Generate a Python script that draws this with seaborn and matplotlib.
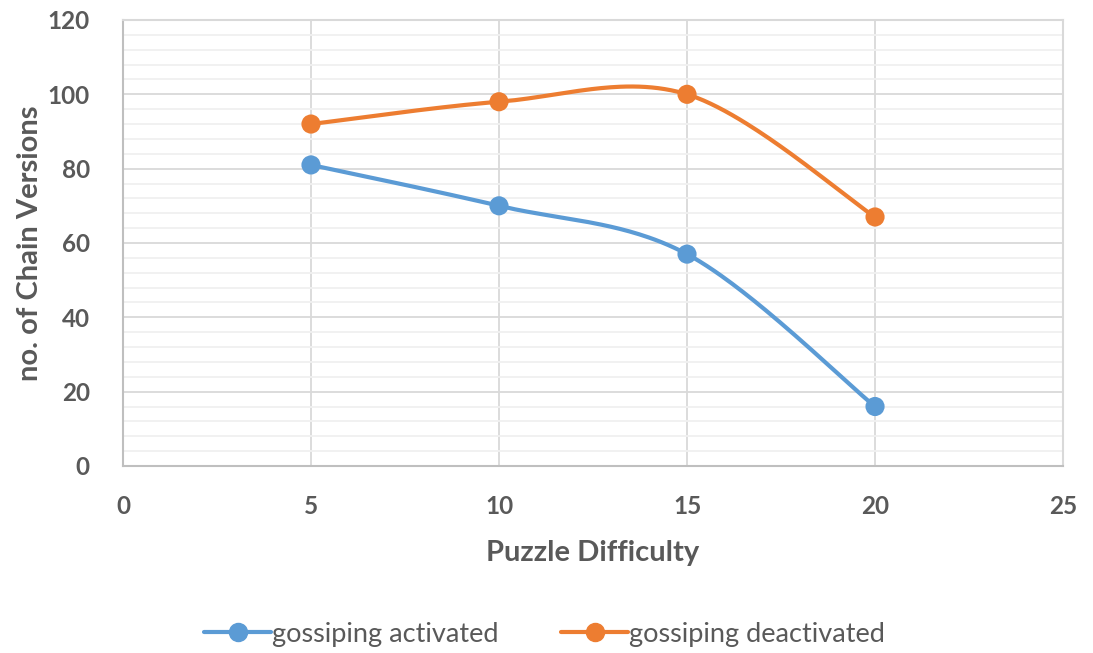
import numpy as np
import pandas as pd
import matplotlib
matplotlib.use("Agg")
import matplotlib.pyplot as plt
from matplotlib.lines import Line2D
from matplotlib.ticker import MultipleLocator
import seaborn as sns

# Chart data
difficulty = [5, 10, 15, 20]
gossip_on = [81, 70, 57, 16]
gossip_off = [92, 98, 100, 67]
series_names = ["gossiping activated", "gossiping deactivated"]
colors = ["#5B9BD5", "#ED7D31"]

sns.set_theme(style="white")
plt.rcParams["font.family"] = ["Lato", "DejaVu Sans"]

TEXT = "#595959"


def smooth(xs, ys, n=60):
    """Cubic Bezier smoothing through every point (spreadsheet-style)."""
    pts = np.column_stack([xs, ys]).astype(float)
    ext = np.vstack([pts[0], pts, pts[-1]])
    out = []
    t = np.linspace(0, 1, n)[:, None]
    for i in range(len(pts) - 1):
        p0, p1, p2, p3 = ext[i], ext[i + 1], ext[i + 2], ext[i + 3]
        c1 = p1 + (p2 - p0) / 6.0
        c2 = p2 - (p3 - p1) / 6.0
        seg = ((1 - t) ** 3) * p1 + 3 * ((1 - t) ** 2) * t * c1 \
            + 3 * (1 - t) * t ** 2 * c2 + t ** 3 * p2
        out.append(seg if i == 0 else seg[1:])
    out = np.vstack(out)
    return out[:, 0], out[:, 1]


curves = []
points = []
for name, vals in zip(series_names, [gossip_on, gossip_off]):
    sx, sy = smooth(difficulty, vals)
    curves.append(pd.DataFrame({"x": sx, "y": sy, "series": name}))
    points.append(pd.DataFrame({"x": difficulty, "y": vals, "series": name}))
curve_df = pd.concat(curves, ignore_index=True)
point_df = pd.concat(points, ignore_index=True)

fig = plt.figure(figsize=(10.93, 6.53), dpi=100)
ax = fig.add_axes([0.1125, 0.2864, 0.8601, 0.683])

palette = dict(zip(series_names, colors))
sns.lineplot(data=curve_df, x="x", y="y", hue="series", palette=palette,
             sort=False, estimator=None, units="series", linewidth=3,
             legend=False, ax=ax, zorder=3)
sns.scatterplot(data=point_df, x="x", y="y", hue="series", palette=palette,
                s=190, edgecolor="none", legend=False, ax=ax, zorder=4)

ax.set_xlim(0, 25)
ax.set_ylim(0, 120)
ax.xaxis.set_major_locator(MultipleLocator(5))
ax.yaxis.set_major_locator(MultipleLocator(20))
ax.yaxis.set_minor_locator(MultipleLocator(4))

ax.grid(which="major", axis="both", color="#D9D9D9", linewidth=1.3, zorder=1)
ax.grid(which="minor", axis="y", color="#F0F0F0", linewidth=1.3, zorder=0)
ax.set_axisbelow(True)

for side in ["left", "bottom"]:
    ax.spines[side].set_color("#BFBFBF")
    ax.spines[side].set_linewidth(1.5)
for side in ["top", "right"]:
    ax.spines[side].set_color("#D9D9D9")
    ax.spines[side].set_linewidth(1.5)

ax.tick_params(axis="both", which="both", length=0, labelsize=17.5, labelcolor=TEXT)
ax.tick_params(axis="y", pad=24)
ax.tick_params(axis="x", pad=21)
for lbl in ax.get_xticklabels() + ax.get_yticklabels():
    lbl.set_fontweight("bold")

ax.set_xlabel("Puzzle Difficulty", fontsize=21, fontweight="bold", color=TEXT, labelpad=16)
ax.set_ylabel("no. of Chain Versions", fontsize=21, fontweight="bold", color=TEXT, labelpad=3)

handles = [Line2D([0], [0], color=c, linewidth=3, marker="o", markersize=13,
                  markeredgecolor=c) for c in colors]
fig.legend(handles, series_names, loc="center", bbox_to_anchor=(0.498, 0.029),
           ncol=2, frameon=False, fontsize=19.5, labelcolor=TEXT,
           handlelength=2.5, handletextpad=0.02, columnspacing=2.3)

fig.savefig("out.png", dpi=100, facecolor="white")
